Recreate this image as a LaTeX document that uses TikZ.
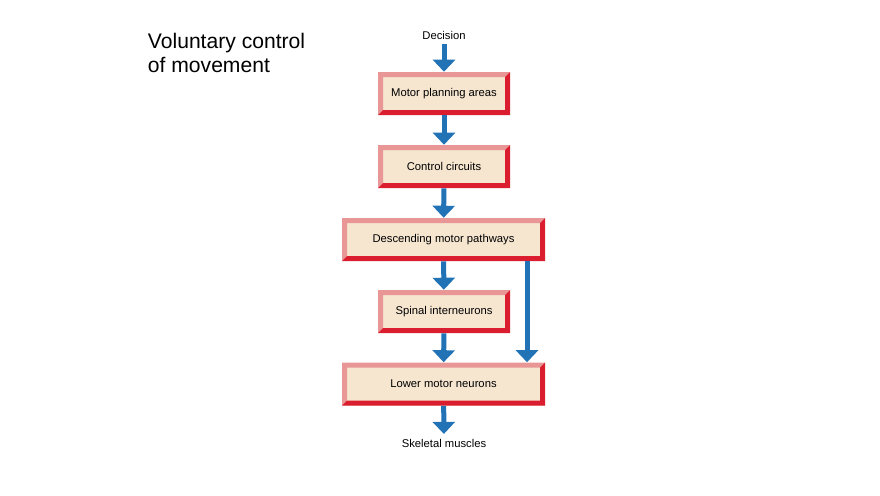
\documentclass[tikz,border=0pt]{standalone}
\usepackage{fontspec}
\setmainfont{Liberation Sans}
\usetikzlibrary{arrows.meta, positioning}
\definecolor{bevdark}{RGB}{218,30,48}
\definecolor{bevlight}{RGB}{232,150,150}
\definecolor{boxfill}{RGB}{246,230,208}
\definecolor{flowblue}{RGB}{34,114,182}
\tikzset{
	stage/.style = {draw=none, fill=boxfill, font=\fontsize{8}{9}\selectfont,
		minimum height=43*0.025cm, path picture={
			\fill[bevlight] (path picture bounding box.south west) -- (path picture bounding box.north west)
			-- (path picture bounding box.north east) -- ([shift={(-5,5)}]path picture bounding box.north east)
			-- ([shift={(5,5)}]path picture bounding box.north west) -- ([shift={(5,-5)}]path picture bounding box.south west) -- cycle;
			\fill[bevdark] (path picture bounding box.south west) -- (path picture bounding box.south east)
			-- (path picture bounding box.north east) -- ([shift={(-5,5)}]path picture bounding box.north east)
			-- ([shift={(-5,-5)}]path picture bounding box.south east) -- ([shift={(5,-5)}]path picture bounding box.south west) -- cycle;
		}},
	narrow/.style = {stage, minimum width=132*0.025cm},
	wide/.style = {stage, minimum width=203*0.025cm},
	flow/.style = {draw=flowblue, line width=5*0.025cm, -{Triangle[width=22*0.025cm, length=12*0.025cm]}},
	caption/.style = {font=\fontsize{8}{9}\selectfont}
}
\begin{document}
\begin{tikzpicture}[x=0.025cm, y=-0.025cm]
	\useasboundingbox (0,0) rectangle (880,495);

	\node[anchor=north west, align=left, font=\fontsize{15}{17}\selectfont] (title) at (143,28) {Voluntary control\\of movement};

	\node[caption] (decision) at (444,35) {Decision};
	\node[narrow] (planning) at (444,93.5) {Motor planning areas};
	\node[narrow] (circuits) at (444,166.5) {Control circuits};
	\node[wide] (descending) at (443.5,239.5) {Descending motor pathways};
	\node[narrow] (spinal) at (444,311.5) {Spinal interneurons};
	\node[wide] (lower) at (443.5,384) {Lower motor neurons};
	\node[caption] (muscles) at (444,443) {Skeletal muscles};

	\draw[flow] (decision) -- (planning);
	\draw[flow] (planning) -- (circuits);
	\draw[flow] (circuits) -- (descending);
	\draw[flow] (descending) -- (spinal);
	\draw[flow] (spinal) -- (lower);
	\draw[flow] (descending.south -| 527,0) -- (lower.north -| 527,0);
	\draw[flow] (lower) -- (muscles);
\end{tikzpicture}
\end{document}
